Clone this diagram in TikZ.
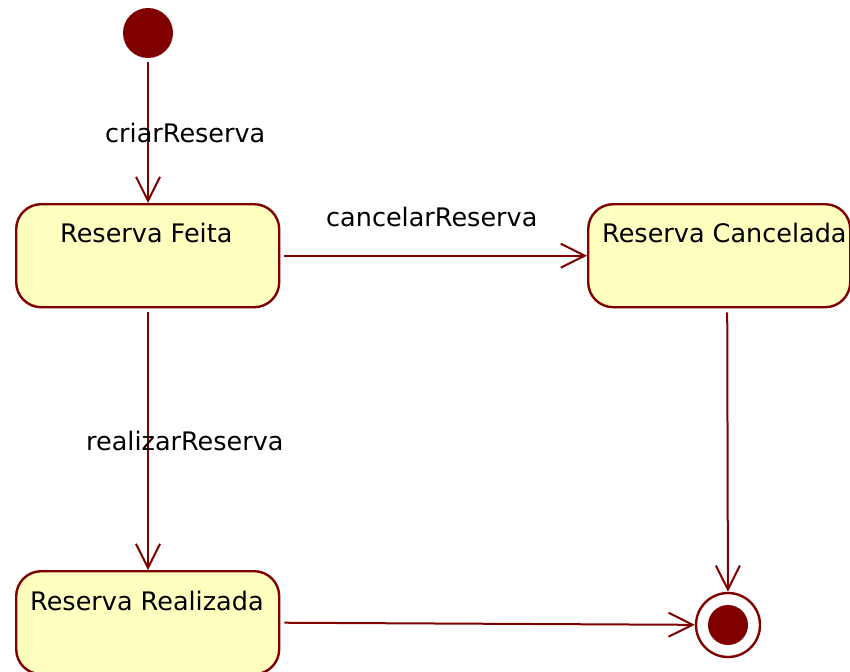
\documentclass[tikz,border=0pt]{standalone}
\usepackage{fontspec}
\setmainfont{DejaVu Sans}
\usetikzlibrary{arrows.meta}
\definecolor{umlred}{RGB}{128,0,0}
\definecolor{umlfill}{RGB}{255,255,192}
\begin{document}
\begin{tikzpicture}[x=1pt,y=-1pt,
  statebox/.style={draw=umlred, fill=umlfill, line width=2.4pt, rounded corners=25pt, minimum width=263pt, minimum height=103pt, inner sep=0pt, anchor=north west},
  stname/.style={font=\fontsize{25.5}{30}\selectfont, anchor=base west, inner sep=0pt, text=black},
  lbl/.style={font=\fontsize{25.5}{30}\selectfont, anchor=base west, inner sep=0pt, text=black},
  trans/.style={draw=umlred, line width=2pt, -{Straight Barb[length=24pt,width=24pt,line width=2pt]}, shorten <=4pt}
]
\useasboundingbox (0,0) rectangle (850,671);
\clip (0,0) rectangle (850,671);
\node[circle, fill=umlred, minimum size=50pt, inner sep=0pt] (init) at (148,33) {};
\node[statebox] (feita) at (15,203) {};
\node[stname] (feitaname) at (60,242) {Reserva Feita};
\node[statebox, minimum width=262pt] (canc) at (587,203) {};
\node[stname] (cancname) at (602,242) {Reserva Cancelada};
\node[statebox] (real) at (15,570) {};
\node[stname] (realname) at (30,610) {Reserva Realizada};
\node[circle, draw=umlred, line width=2.4pt, fill=white, minimum size=64pt, inner sep=0pt] (final) at (728,625) {};
\node[circle, fill=umlred, minimum size=40pt, inner sep=0pt] (finaldot) at (final) {};
\draw[trans] (init) -- (feita.north -| init);
\draw[trans] (feita.east) -- (canc.west);
\draw[trans] (feita.south -| init) -- (real.north -| init);
\draw[trans] ([xshift=8pt]canc.south) -- (final);
\draw[trans] (real.east) -- (final);
\node[lbl] (l1) at (105,143) {criarReserva};
\node[lbl] (l2) at (326,226) {cancelarReserva};
\node[lbl] (l3) at (86,450) {realizarReserva};
\end{tikzpicture}
\end{document}
